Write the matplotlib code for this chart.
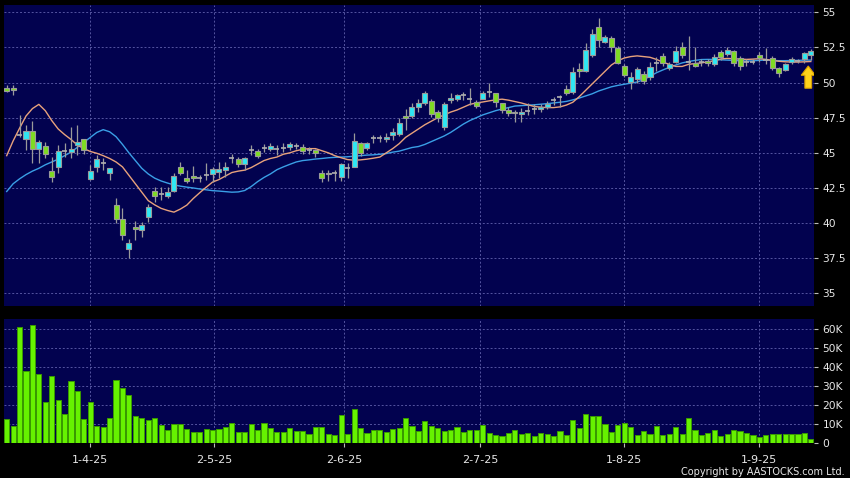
import numpy as np
import matplotlib
matplotlib.use("Agg")
import matplotlib.pyplot as plt
from matplotlib.patches import FancyArrow

# daily OHLC (126 sessions, 13-Mar-25 .. 12-Sep-25)
opens = [49.60, 49.62, 46.30, 45.96, 46.57, 45.25, 45.50, 43.70, 43.97, 45.15,
         45.08, 45.55, 45.96, 43.11, 44.00, 44.25, 43.54, 41.30, 40.27, 38.13,
         39.70, 39.50, 40.45, 42.25, 42.05, 41.95, 42.28, 43.97, 43.18, 43.37,
         43.18, 43.42, 43.47, 43.63, 43.80, 44.60, 44.58, 44.18, 45.20, 45.10,
         45.32, 45.27, 45.25, 45.32, 45.43, 45.50, 45.43, 45.20, 45.20, 43.60,
         43.47, 43.54, 43.25, 43.90, 43.97, 45.72, 45.32, 46.03, 46.03, 45.96,
         46.27, 46.34, 47.62, 47.62, 48.28, 48.52, 48.71, 47.93, 46.81, 48.76,
         48.80, 49.11, 48.80, 48.59, 48.80, 49.35, 49.24, 48.52, 48.05, 47.93,
         47.74, 47.98, 48.10, 48.10, 48.24, 48.76, 48.95, 49.52, 49.31, 51.00,
         50.84, 51.96, 53.93, 52.91, 53.15, 52.43, 51.20, 50.06, 50.23, 50.60,
         50.42, 51.41, 51.90, 51.01, 51.48, 52.55, 51.48, 51.41, 51.48, 51.53,
         51.32, 52.20, 52.03, 52.25, 51.73, 51.48, 51.48, 51.96, 51.60, 51.73,
         51.01, 50.90, 51.48, 51.53, 51.65, 51.96]
highs = [49.80, 49.80, 47.70, 47.00, 47.30, 45.90, 45.80, 44.70, 45.55, 45.70,
         46.85, 47.00, 46.00, 44.13, 44.85, 44.60, 43.90, 41.76, 41.10, 38.90,
         40.15, 40.10, 41.35, 42.55, 42.60, 42.60, 43.60, 44.37, 43.77, 44.05,
         43.42, 44.26, 44.00, 44.33, 44.37, 44.90, 44.72, 44.72, 45.55, 45.30,
         45.60, 45.70, 45.55, 45.70, 45.80, 45.70, 45.60, 45.40, 45.30, 43.77,
         43.77, 43.80, 44.25, 44.25, 46.40, 45.80, 45.80, 46.27, 46.30, 46.40,
         46.74, 47.50, 48.10, 48.52, 48.80, 49.42, 48.80, 48.05, 48.64, 49.24,
         49.20, 49.35, 49.60, 48.75, 49.42, 49.95, 49.28, 48.57, 48.23, 48.05,
         48.20, 48.52, 48.50, 48.50, 48.70, 48.99, 49.11, 49.83, 51.10, 51.37,
         52.80, 53.79, 54.57, 53.40, 53.30, 52.60, 51.35, 50.77, 51.13, 50.80,
         51.48, 51.80, 52.10, 51.50, 52.60, 52.90, 53.30, 52.55, 51.70, 51.70,
         52.00, 52.30, 52.50, 52.30, 51.90, 51.70, 51.70, 52.20, 52.43, 51.90,
         51.13, 51.40, 51.80, 51.70, 52.20, 52.40]
lows = [49.30, 49.10, 46.15, 45.20, 44.30, 44.30, 44.60, 42.95, 43.60, 44.70,
        44.60, 44.84, 44.90, 43.06, 43.65, 43.77, 43.06, 39.98, 38.80, 37.50,
        38.80, 39.03, 40.10, 41.50, 41.65, 41.77, 42.23, 43.42, 42.83, 42.95,
        42.90, 43.07, 42.95, 43.20, 43.30, 44.25, 44.00, 43.77, 44.84, 44.60,
        45.04, 45.10, 44.84, 45.05, 45.20, 45.30, 44.95, 44.90, 44.70, 42.95,
        43.00, 43.00, 43.00, 43.18, 43.97, 44.78, 45.20, 45.68, 45.80, 45.80,
        45.90, 46.20, 46.60, 47.46, 47.93, 48.40, 47.57, 47.20, 46.62, 48.52,
        48.70, 48.76, 48.40, 48.20, 48.80, 49.00, 48.28, 47.81, 47.62, 47.20,
        47.20, 47.69, 47.80, 47.90, 48.10, 48.40, 48.28, 49.11, 49.20, 50.42,
        50.77, 51.84, 52.55, 52.80, 52.20, 51.30, 50.40, 49.52, 49.99, 49.90,
        50.18, 50.80, 51.20, 50.90, 51.40, 51.73, 50.90, 51.13, 51.20, 51.20,
        51.20, 51.60, 51.90, 51.20, 50.90, 51.20, 51.30, 51.50, 51.32, 50.90,
        50.37, 50.80, 51.30, 51.40, 51.40, 51.60]
closes = [49.42, 49.45, 46.30, 46.57, 45.25, 45.80, 44.90, 43.30, 45.10, 45.15,
          45.30, 45.75, 45.20, 43.73, 44.57, 44.25, 43.90, 40.27, 39.15, 38.60,
          39.55, 39.84, 41.12, 41.90, 42.05, 42.23, 43.35, 43.54, 43.00, 43.23,
          43.18, 43.42, 43.83, 43.83, 43.99, 44.60, 44.18, 44.65, 45.20, 44.80,
          45.32, 45.50, 45.25, 45.32, 45.60, 45.50, 45.10, 45.20, 44.96, 43.18,
          43.60, 43.54, 44.20, 43.90, 45.84, 44.96, 45.72, 46.03, 46.03, 46.10,
          46.50, 47.14, 47.46, 48.24, 48.52, 49.28, 47.74, 47.50, 48.45, 48.88,
          49.11, 49.11, 48.80, 48.35, 49.28, 49.35, 48.60, 48.05, 47.86, 47.81,
          47.93, 47.98, 48.10, 48.28, 48.47, 48.76, 48.95, 49.28, 50.77, 50.84,
          52.32, 53.46, 53.03, 53.27, 52.55, 51.41, 50.54, 50.42, 50.94, 50.10,
          51.13, 51.41, 51.37, 51.30, 52.25, 51.96, 51.48, 51.18, 51.48, 51.37,
          51.79, 51.80, 52.32, 51.37, 51.20, 51.48, 51.48, 51.73, 51.60, 51.01,
          50.66, 51.30, 51.65, 51.53, 52.07, 52.25]

# volume in thousands of shares
volume_k = [12.8, 9.3, 61.4, 38.0, 62.3, 36.8, 21.9, 35.6, 22.8, 15.4,
            32.9, 27.5, 13.1, 21.6, 9.3, 8.9, 13.5, 33.6, 29.4, 25.4,
            14.5, 13.6, 12.6, 13.3, 9.6, 7.3, 10.5, 10.0, 7.5, 5.9,
            5.9, 7.5, 7.2, 7.7, 8.7, 10.7, 6.1, 6.1, 10.3, 7.0,
            11.0, 8.4, 5.8, 6.1, 7.9, 6.8, 6.6, 5.2, 8.6, 8.9,
            4.9, 4.4, 14.9, 5.1, 18.2, 8.1, 5.6, 7.0, 7.0, 5.8,
            7.7, 8.2, 13.5, 9.1, 6.6, 11.7, 9.4, 8.4, 6.6, 7.3,
            8.7, 6.1, 7.0, 7.0, 9.8, 5.4, 4.4, 4.0, 5.6, 7.3,
            5.2, 5.6, 3.7, 5.6, 5.1, 3.9, 6.5, 4.4, 12.2, 8.0,
            15.4, 14.7, 14.4, 10.0, 5.8, 9.8, 10.8, 8.7, 4.7, 6.5,
            5.1, 9.1, 4.4, 4.9, 8.6, 5.2, 13.3, 7.0, 4.7, 5.6,
            7.0, 3.9, 4.9, 7.2, 6.6, 5.6, 4.4, 3.3, 4.7, 5.1,
            5.1, 5.1, 5.1, 5.1, 5.4, 2.4]

# moving averages as drawn on the chart
ma_short = [44.80, 45.85, 46.75, 47.62, 48.15, 48.45, 48.00, 47.30, 46.70, 46.30,
            45.95, 45.55, 45.30, 45.10, 44.97, 44.80, 44.60, 44.35, 44.00, 43.40,
            42.80, 42.20, 41.60, 41.30, 41.05, 40.90, 40.78, 41.00, 41.28, 41.75,
            42.16, 42.55, 42.92, 43.10, 43.35, 43.60, 43.70, 43.77, 43.95, 44.20,
            44.45, 44.60, 44.70, 44.90, 45.00, 45.15, 45.25, 45.30, 45.30, 45.15,
            45.00, 44.80, 44.65, 44.52, 44.48, 44.50, 44.55, 44.62, 44.70, 45.00,
            45.30, 45.65, 46.10, 46.40, 46.70, 47.00, 47.25, 47.50, 47.70, 47.90,
            48.05, 48.25, 48.45, 48.55, 48.62, 48.70, 48.77, 48.82, 48.75, 48.65,
            48.55, 48.42, 48.30, 48.25, 48.22, 48.22, 48.27, 48.40, 48.60, 49.00,
            49.45, 49.90, 50.35, 50.80, 51.25, 51.55, 51.75, 51.85, 51.90, 51.85,
            51.80, 51.65, 51.45, 51.30, 51.15, 51.15, 51.30, 51.35, 51.40, 51.48,
            51.55, 51.68, 51.72, 51.70, 51.67, 51.65, 51.67, 51.70, 51.65, 51.58,
            51.52, 51.48, 51.46, 51.46, 51.48, 51.50]
ma_long = [42.25, 42.80, 43.15, 43.45, 43.70, 43.90, 44.15, 44.35, 44.55, 44.80,
           45.05, 45.40, 45.75, 46.10, 46.45, 46.65, 46.50, 46.15, 45.60, 45.00,
           44.45, 43.90, 43.50, 43.20, 43.00, 42.85, 42.72, 42.63, 42.56, 42.50,
           42.43, 42.37, 42.31, 42.28, 42.24, 42.20, 42.22, 42.32, 42.60, 42.95,
           43.25, 43.50, 43.80, 44.00, 44.18, 44.35, 44.45, 44.50, 44.56, 44.60,
           44.65, 44.68, 44.70, 44.72, 44.76, 44.80, 44.84, 44.86, 44.90, 44.95,
           45.05, 45.12, 45.25, 45.38, 45.45, 45.60, 45.80, 46.00, 46.20, 46.45,
           46.75, 47.05, 47.30, 47.50, 47.70, 47.85, 48.00, 48.12, 48.22, 48.33,
           48.36, 48.39, 48.42, 48.46, 48.50, 48.55, 48.60, 48.66, 48.77, 48.90,
           49.05, 49.20, 49.40, 49.55, 49.70, 49.80, 49.88, 49.96, 50.04, 50.20,
           50.45, 50.70, 50.90, 51.08, 51.25, 51.40, 51.50, 51.58, 51.64, 51.65,
           51.64, 51.62, 51.60, 51.58, 51.55, 51.53, 51.55, 51.58, 51.60, 51.58,
           51.56, 51.56, 51.57, 51.58, 51.60, 51.60]

# month ticks (session position, label)
tick_pos = [13, 32.3, 52.5, 73.6, 95.9, 117.0]
tick_labels = ["1-4-25", "2-5-25", "2-6-25", "2-7-25", "1-8-25", "1-9-25"]
price_ticks = [35, 37.5, 40, 42.5, 45, 47.5, 50, 52.5, 55]
vol_ticks = [0, 10, 20, 30, 40, 50, 60]

BG = "#000000"
PANEL = "#02024f"
GRID = "#5454a0"
UP = "#2ee8f4"
DOWN = "#7edc22"
EDGE = "#9a9a9a"
TXT = "#e8e8e8"

o = np.array(opens); h = np.array(highs); l = np.array(lows); c = np.array(closes)
idx = np.arange(len(o))

fig = plt.figure(figsize=(8.5, 4.78), dpi=100, facecolor=BG)
ax = fig.add_axes([0.0047, 0.3598, 0.953, 0.6297])
axv = fig.add_axes([0.0047, 0.0722, 0.953, 0.2604], sharex=ax)

for a in (ax, axv):
    a.set_facecolor(PANEL)
    for s in a.spines.values():
        s.set_visible(False)
    a.yaxis.tick_right()
    a.tick_params(axis="y", colors=TXT, labelsize=7.7, length=3, width=0.8,
                  pad=3, direction="out")
    a.tick_params(axis="y", color="#bbbbbb")
    a.grid(True, color=GRID, linestyle=(0, (2, 2)), linewidth=0.7)
    a.set_axisbelow(True)

ax.set_xlim(-0.42, 125.5)
ax.set_ylim(34.1, 55.52)
ax.set_yticks(price_ticks)
ax.set_yticklabels([f"{v:g}" for v in price_ticks])
ax.set_xticks(tick_pos)
ax.tick_params(axis="x", length=0, labelbottom=False)

# moving averages
ax.plot(idx, ma_long, color="#3a9fe6", lw=1.0, zorder=2)
ax.plot(idx, ma_short, color="#e8a27c", lw=1.0, zorder=2)

# candles
ax.vlines(idx, l, h, color=EDGE, lw=0.9, zorder=3)
up = c > o
dn = c < o
flat = c == o
body_w = 0.78
ax.bar(idx[up], (c - o)[up], bottom=o[up], width=body_w, color=UP,
       edgecolor=EDGE, linewidth=0.8, zorder=4)
ax.bar(idx[dn], (o - c)[dn], bottom=c[dn], width=body_w, color=DOWN,
       edgecolor=EDGE, linewidth=0.8, zorder=4)
ax.hlines(c[flat], idx[flat] - body_w / 2, idx[flat] + body_w / 2,
          color="#b0b0b0", lw=1.2, zorder=4)

# yellow marker arrow under the latest session
ax.add_patch(FancyArrow(idx[-1] - 0.4, l[-1] - 2.0, 0, 1.58, width=1.05,
                        head_width=2.2, head_length=0.66,
                        length_includes_head=True, facecolor="#ffd21a",
                        edgecolor="#d9a000", linewidth=0.8, zorder=6))

# volume
axv.bar(idx, volume_k, width=0.8, color="#66f200", edgecolor="#3a9a00",
        linewidth=0.7, zorder=3)
axv.set_ylim(0, 65.5)
axv.set_yticks(vol_ticks)
axv.set_yticklabels(["0" if v == 0 else f"{v}K" for v in vol_ticks])
axv.set_xticks(tick_pos)
axv.set_xticklabels(tick_labels)
axv.tick_params(axis="x", colors=TXT, labelsize=8, length=3, width=0.8,
                pad=5, direction="out")
axv.tick_params(axis="x", color="#bbbbbb")

fig.text(0.994, 0.013, "Copyright by AASTOCKS.com Ltd.", color=TXT,
         fontsize=7, ha="right", va="center")

fig.savefig("out.png", dpi=100, facecolor=BG)
